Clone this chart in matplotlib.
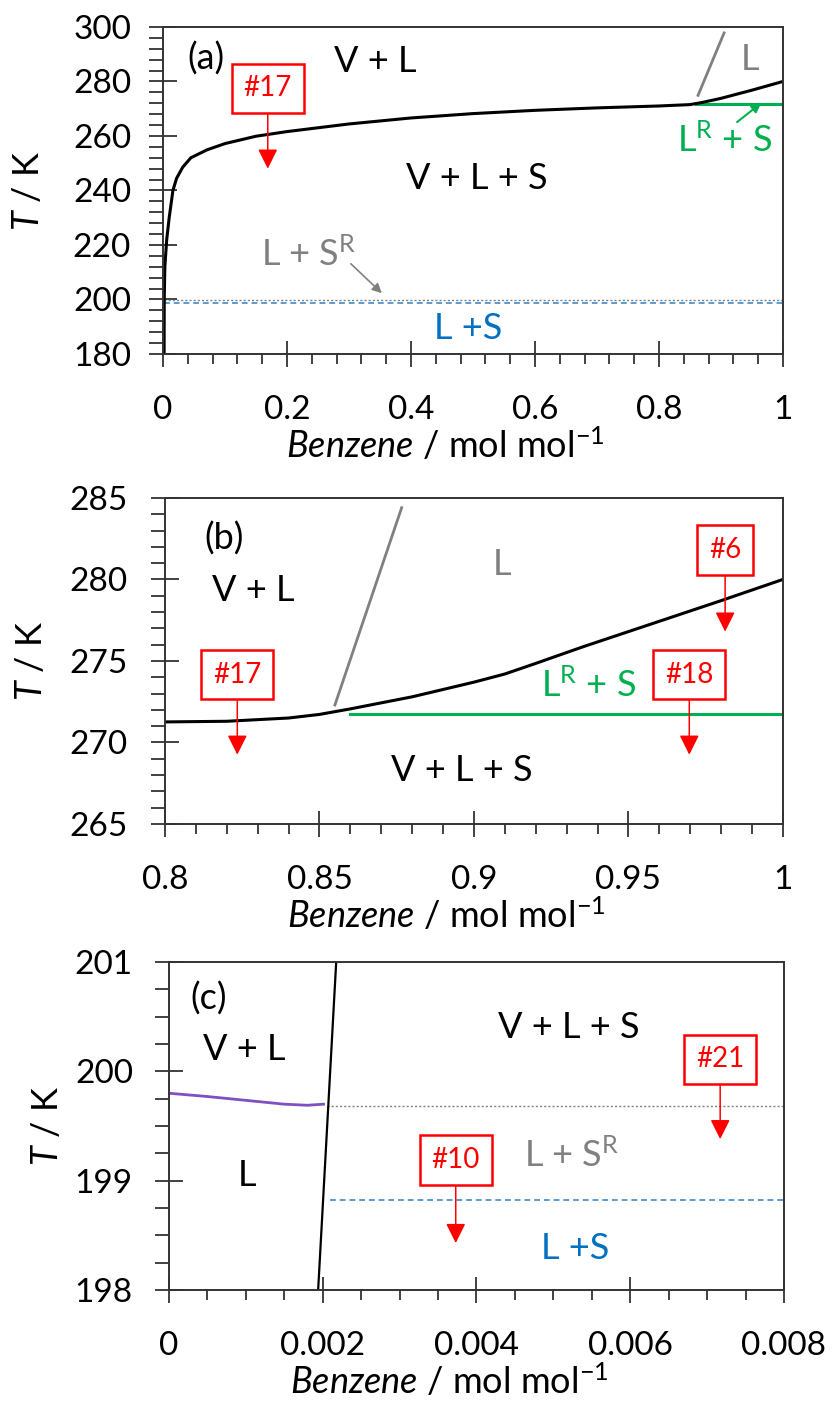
import matplotlib
matplotlib.use("Agg")
import matplotlib.pyplot as plt
from matplotlib.ticker import MultipleLocator, FuncFormatter

plt.rcParams['font.family'] = ['Lato', 'DejaVu Sans']
plt.rcParams['mathtext.fontset'] = 'custom'
plt.rcParams['mathtext.rm'] = 'Lato'
plt.rcParams['mathtext.it'] = 'Lato:italic'

# ---------------- data ----------------
# panel (a): three-phase boundary (black)
a_curve_x = [0.0018, 0.002, 0.003, 0.006, 0.010, 0.016, 0.022, 0.032, 0.045, 0.071, 0.10, 0.15,
             0.20, 0.30, 0.40, 0.50, 0.60, 0.70, 0.80, 0.85, 0.87, 0.90, 0.95, 1.00]
a_curve_T = [180.0, 200.0, 212.0, 222.0, 230.0, 240.0, 244.5, 248.6, 252.0, 254.9, 257.2, 259.9,
             261.6, 264.4, 266.6, 268.2, 269.4, 270.3, 271.0, 271.5, 272.3, 273.8, 276.8, 280.0]
a_gray_x = [0.863, 0.905]
a_gray_T = [274.9, 297.8]
a_green_x = [0.86, 1.0]
a_green_T = [271.8, 271.8]
a_dot_x = [0.002, 1.0]
a_dot_T = [199.68, 199.68]
a_dash_x = [0.002, 1.0]
a_dash_T = [198.82, 198.82]

# panel (b)
b_curve_x = [0.80, 0.82, 0.84, 0.85, 0.86, 0.88, 0.90, 0.91, 0.92, 0.935, 0.95, 0.965, 0.98, 1.00]
b_curve_T = [271.26, 271.30, 271.50, 271.72, 272.06, 272.80, 273.70, 274.20, 274.85, 275.85, 276.80,
             277.75, 278.70, 280.00]
b_gray_x = [0.855, 0.8766]
b_gray_T = [272.3, 284.4]
b_green_x = [0.86, 1.0]
b_green_T = [271.75, 271.75]

# panel (c)
c_purple_x = [0.0, 0.0005, 0.0010, 0.0015, 0.0018, 0.00201]
c_purple_T = [199.80, 199.77, 199.735, 199.70, 199.69, 199.70]
c_black_x = [0.00194, 0.002175]
c_black_T = [198.0, 201.0]
c_dot_x = [0.00205, 0.008]
c_dot_T = [199.68, 199.68]
c_dash_x = [0.00209, 0.008]
c_dash_T = [198.82, 198.82]

# experiment markers: (label, x, box T, arrow tip T)
a_marks = [("#17", 0.169, 277.5, 248.0)]
b_marks = [("#17", 0.8234, 274.15, 269.25), ("#18", 0.9697, 274.15, 269.25), ("#6", 0.9813, 281.8, 276.8)]
c_marks = [("#10", 0.00373, 199.19, 198.43), ("#21", 0.00717, 200.11, 199.38)]

# ---------------- styling ----------------
RED = '#FF0000'
GREEN = '#00B050'
GRAY = '#808080'
BLUE = '#0070C0'
LBLUE = '#5B9BD5'
PURPLE = '#8050C0'
SPINE = '#333333'
TICKFS = 24
LABFS = 26

fig = plt.figure(figsize=(8.35, 14.03), dpi=100)

def style(ax, xlim, ylim, xmaj, xmin, ymaj, ymin, ylab_x, ypad):
    ax.set_xlim(*xlim)
    ax.set_ylim(*ylim)
    ax.xaxis.set_major_locator(MultipleLocator(xmaj))
    ax.xaxis.set_minor_locator(MultipleLocator(xmin))
    ax.yaxis.set_major_locator(MultipleLocator(ymaj))
    ax.yaxis.set_minor_locator(MultipleLocator(ymin))
    ax.xaxis.set_major_formatter(FuncFormatter(lambda v, p: ('%g' % round(v, 6))))
    ax.yaxis.set_major_formatter(FuncFormatter(lambda v, p: ('%g' % round(v, 6))))
    ax.tick_params(axis='x', which='major', direction='inout', length=19, width=1.3,
                   pad=20, labelsize=TICKFS, colors=SPINE, labelcolor='black')
    ax.tick_params(axis='x', which='minor', direction='out', length=7.5, width=1.3, colors=SPINE)
    ax.tick_params(axis='y', which='major', direction='inout', length=20, width=1.3,
                   pad=ypad, labelsize=TICKFS, colors=SPINE, labelcolor='black')
    ax.tick_params(axis='y', which='minor', direction='out', length=10, width=1.3, colors=SPINE)
    for s in ax.spines.values():
        s.set_linewidth(1.4)
        s.set_color(SPINE)
    ax.set_xlabel(r'$\mathit{Benzene}$ / mol mol$^{\mathregular{-1}}$', fontsize=LABFS)
    ax.xaxis.set_label_coords(0.455, -0.222)
    ax.set_ylabel(r'$\mathit{T}$ / K', fontsize=LABFS)
    ax.yaxis.set_label_coords(ylab_x, 0.5)

def marks(ax, items):
    for lab, x, tb, tip in items:
        ax.annotate(lab, xy=(x, tip), xytext=(x, tb), ha='center', va='center',
                    color=RED, fontsize=20,
                    bbox=dict(boxstyle='square,pad=0.42', fc='white', ec=RED, lw=1.8),
                    arrowprops=dict(arrowstyle='-|>', color=RED, lw=1.1,
                                    mutation_scale=30, shrinkA=0, shrinkB=0))

# ---------------- panel (a) ----------------
axa = fig.add_axes([0.1952, 0.7477, 0.7425, 0.2331])
style(axa, (0, 1), (180, 300), 0.2, 0.04, 20, 4, -0.19, 13)
axa.plot(a_dot_x, a_dot_T, color=GRAY, lw=1.0, ls=(0, (1.5, 1.5)))
axa.plot(a_dash_x, a_dash_T, color=LBLUE, lw=1.4, ls=(0, (3, 2)))
axa.plot(a_gray_x, a_gray_T, color=GRAY, lw=2.0)
axa.plot(a_green_x, a_green_T, color=GREEN, lw=2.2)
axa.plot(a_curve_x, a_curve_T, color='black', lw=2.2)
axa.text(0.07, 288.5, '(a)', fontsize=LABFS, ha='center', va='center')
axa.text(0.342, 287.5, 'V + L', fontsize=LABFS, ha='center', va='center')
axa.text(0.506, 244.5, 'V + L + S', fontsize=LABFS, ha='center', va='center')
axa.text(0.947, 288.0, 'L', fontsize=LABFS, ha='center', va='center', color=GRAY)
axa.text(0.905, 258.5, r'L$^{\mathregular{R}}$ + S', fontsize=LABFS, ha='center', va='center', color=GREEN)
axa.text(0.235, 216.5, r'L + S$^{\mathregular{R}}$', fontsize=LABFS, ha='center', va='center', color=GRAY)
axa.text(0.492, 189.5, 'L +S', fontsize=LABFS, ha='center', va='center', color=BLUE)
axa.annotate('', xy=(0.965, 272.1), xytext=(0.926, 265.1),
             arrowprops=dict(arrowstyle='-|>', color=GREEN, lw=1.5, mutation_scale=14, shrinkA=0, shrinkB=0))
axa.annotate('', xy=(0.353, 202.3), xytext=(0.303, 213.1),
             arrowprops=dict(arrowstyle='-|>', color=GRAY, lw=1.2, mutation_scale=14, shrinkA=0, shrinkB=0))
marks(axa, a_marks)

# ---------------- panel (b) ----------------
axb = fig.add_axes([0.1976, 0.4127, 0.7400, 0.2324])
style(axb, (0.8, 1.0), (265, 285), 0.05, 0.01, 5, 1, -0.19, 17)
axb.plot(b_gray_x, b_gray_T, color=GRAY, lw=2.0)
axb.plot(b_green_x, b_green_T, color=GREEN, lw=2.2)
axb.plot(b_curve_x, b_curve_T, color='black', lw=2.2)
axb.text(0.819, 282.5, '(b)', fontsize=LABFS, ha='center', va='center')
axb.text(0.8286, 279.3, 'V + L', fontsize=LABFS, ha='center', va='center')
axb.text(0.909, 280.9, 'L', fontsize=LABFS, ha='center', va='center', color=GRAY)
axb.text(0.937, 273.5, r'L$^{\mathregular{R}}$ + S', fontsize=LABFS, ha='center', va='center', color=GREEN)
axb.text(0.896, 268.3, 'V + L + S', fontsize=LABFS, ha='center', va='center')
marks(axb, b_marks)

# ---------------- panel (c) ----------------
axc = fig.add_axes([0.2024, 0.0805, 0.7365, 0.2338])
style(axc, (0, 0.008), (198, 201), 0.002, 0.0005, 1, 0.25, -0.17, 16)
axc.plot(c_dot_x, c_dot_T, color=GRAY, lw=1.0, ls=(0, (1.5, 1.5)))
axc.plot(c_dash_x, c_dash_T, color=LBLUE, lw=1.4, ls=(0, (3, 2)))
axc.plot(c_purple_x, c_purple_T, color=PURPLE, lw=2.0)
axc.plot(c_black_x, c_black_T, color='black', lw=1.6)
axc.text(0.00052, 200.67, '(c)', fontsize=LABFS, ha='center', va='center')
axc.text(0.00098, 200.2, 'V + L', fontsize=LABFS, ha='center', va='center')
axc.text(0.00102, 199.05, 'L', fontsize=LABFS, ha='center', va='center')
axc.text(0.0052, 200.4, 'V + L + S', fontsize=LABFS, ha='center', va='center')
axc.text(0.00524, 199.23, r'L + S$^{\mathregular{R}}$', fontsize=LABFS, ha='center', va='center', color=GRAY)
axc.text(0.00528, 198.38, 'L +S', fontsize=LABFS, ha='center', va='center', color=BLUE)
marks(axc, c_marks)

fig.savefig('out.png', dpi=100)
